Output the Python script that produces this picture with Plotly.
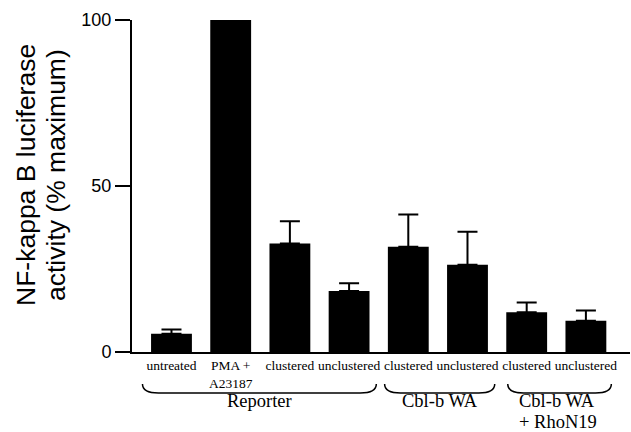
import plotly.graph_objects as go

# ---- data ----
conditions = ["untreated", "PMA +<br>A23187", "clustered", "unclustered",
              "clustered", "unclustered", "clustered", "unclustered"]
activity = [5.5, 100, 32.7, 18.4, 31.7, 26.3, 12.0, 9.4]
sem = [1.3, None, 6.7, 2.3, 9.7, 9.9, 2.9, 3.1]
groups = ["Reporter", "Cbl-b WA", "Cbl-b WA\n+ RhoN19"]
group_first = [0, 4, 6]
group_last = [3, 5, 7]
y_ticks = [0, 50, 100]
y_title = ["NF-kappa B luciferase", "activity (% maximum)"]

# ---- layout constants ----
W, H = 631, 432
ML, MR, MT, MB = 132, 1, 20, 80
PH = H - MT - MB
X_RANGE = [-0.667, 7.745]
pad_l = [0.49, 0.40, 0.32]
pad_r = [0.46, 0.46, 0.43]

def py(px):  # pixel row -> paper y
    return (H - MB - px) / PH

def pxx(px):  # pixel column -> paper x
    return (px - ML) / (W - ML - MR)

x = list(range(len(conditions)))

fig = go.Figure()
fig.add_trace(go.Bar(
    x=x, y=activity, width=0.69,
    marker=dict(color="black", line=dict(width=0)),
    error_y=dict(type="data", symmetric=False,
                 array=[e if e is not None else 0 for e in sem],
                 arrayminus=[0] * len(sem),
                 color="black", thickness=2, width=10),
))

shapes = []
annotations = []
yt, yb = py(384), py(393)
GFONT = dict(family="Liberation Serif", size=18.5, color="black")
for g, a, b, pl, pr in zip(groups, group_first, group_last, pad_l, pad_r):
    xl, xr = a - pl, b + pr
    d = 0.27
    path = (f"M {xl},{yt} Q {xl},{yb} {xl + d},{yb} "
            f"L {xr - d},{yb} Q {xr},{yb} {xr},{yt}")
    shapes.append(dict(type="path", xref="x", yref="paper", path=path,
                       line=dict(color="black", width=1.5)))
    lines = g.split("\n")
    if len(lines) > 1:
        for k, ln in enumerate(lines):
            annotations.append(dict(x=xl + 0.15, y=py(389 + 21 * k), xref="x",
                                    yref="paper", text=ln, showarrow=False,
                                    xanchor="left", yanchor="top", font=GFONT))
    else:
        annotations.append(dict(x=(xl + xr) / 2, y=py(389), xref="x", yref="paper",
                                text=g, showarrow=False, xanchor="center",
                                yanchor="top", font=GFONT))

for line, cx in zip(y_title, [26, 56]):
    annotations.append(dict(
        x=pxx(cx), y=py(175), xref="paper", yref="paper",
        text=line, textangle=-90, showarrow=False,
        xanchor="center", yanchor="middle",
        font=dict(family="Liberation Sans", size=26.5, color="black")))

fig.update_layout(
    width=W, height=H,
    margin=dict(l=ML, r=MR, t=MT, b=MB),
    paper_bgcolor="white", plot_bgcolor="white",
    showlegend=False,
    shapes=shapes, annotations=annotations,
    xaxis=dict(range=X_RANGE, tickvals=x, ticktext=conditions,
               showline=True, linecolor="black", linewidth=2,
               ticks="", showgrid=False, zeroline=False,
               tickfont=dict(family="Liberation Serif", size=13.5, color="black")),
    yaxis=dict(range=[0, 100], tickvals=y_ticks,
               showline=True, linecolor="black", linewidth=2,
               ticks="outside", ticklen=15, tickwidth=2, tickcolor="black",
               showgrid=False, zeroline=False,
               tickfont=dict(family="Liberation Sans", size=18, color="black")),
)

fig.write_html("out.html", config={"displayModeBar": False},
               post_script="document.body.style.margin='0';document.body.style.overflow='hidden';")
